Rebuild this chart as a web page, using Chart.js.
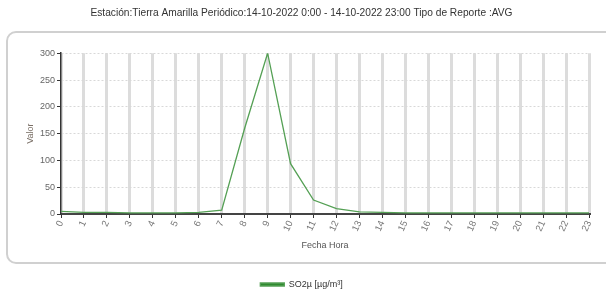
<!DOCTYPE html>
<html>
<head>
<meta charset="utf-8">
<script src="https://cdn.jsdelivr.net/npm/chart.js@4/dist/chart.umd.min.js"></script>
<style>
  html, body { margin: 0; padding: 0; background: #fff; }
  #wrap { width: 606px; height: 290px; position: relative; }
</style>
</head>
<body>
<div id="wrap"><canvas id="so2-chart"></canvas></div>
<script>
/* SO2 hourly average — Tierra Amarilla */
const hours = ['0','1','2','3','4','5','6','7','8','9','10','11','12','13','14','15','16','17','18','19','20','21','22','23'];
const so2Values = [5, 3, 3, 2, 2, 2, 3, 7, 160, 300, 94, 26, 10, 4, 3, 2, 2, 2, 2, 2, 2, 2, 2, 2];
const seriesLabel = 'SO2µ [µg/m³]';
const chartTitle = 'Estación:Tierra Amarilla Periódico:14-10-2022 0:00 - 14-10-2022 23:00 Tipo de Reporte :AVG';

const FONT = "'Liberation Sans', Arial, sans-serif";

// rounded panel behind the plot, like the WinForms chart area border
const panelPlugin = {
    id: 'panel',
    beforeDraw(chart) {
        const c = chart.ctx;
        c.save();
        c.fillStyle = '#fff';
        c.fillRect(0, 0, chart.width, chart.height);
        c.strokeStyle = '#d0d0d0';
        c.lineWidth = 2;
        c.beginPath();
        c.roundRect(7, 32, 640, 231, 9);
        c.stroke();
        c.restore();
    }
};

new Chart(document.getElementById('so2-chart'), {
    type: 'line',
    data: {
        labels: hours,
        datasets: [{
            label: seriesLabel,
            data: so2Values,
            borderColor: '#55a055',
            backgroundColor: '#2f8a2f',
            borderWidth: 1.3,
            pointRadius: 0,
            tension: 0
        }]
    },
    plugins: [panelPlugin],
    options: {
        responsive: true,
        maintainAspectRatio: false,
        animation: false,
        layout: { padding: { left: 14, right: 17, top: 0, bottom: -9 } },
        scales: {
            x: {
                offset: false,
                grid: {
                    color: '#dcdcdc',
                    lineWidth: 3,
                    tickColor: '#333',
                    tickWidth: 1,
                    tickLength: 4
                },
                border: { color: '#444', width: 2 },
                ticks: {
                    autoSkip: false,
                    minRotation: 65,
                    maxRotation: 65,
                    padding: 1,
                    color: '#777',
                    font: { family: FONT, size: 9.5 }
                },
                title: {
                    display: true,
                    text: 'Fecha Hora',
                    color: '#555',
                    font: { family: FONT, size: 9 },
                    padding: { top: 2, bottom: 24 }
                },
                afterFit: s => { s.height = 61; }
            },
            y: {
                min: 0,
                max: 300,
                grid: {
                    color: ctx => ctx.tick && ctx.tick.value % 50 === 0 ? '#d8d8d8' : 'rgba(0,0,0,0)',
                    lineWidth: 1,
                    tickColor: '#333',
                    tickLength: 4
                },
                border: { color: '#333', width: 1.5, dash: [2, 2] },
                ticks: {
                    stepSize: 25,
                    padding: 2,
                    color: '#666',
                    font: { family: FONT, size: 9 },
                    callback: v => v % 50 === 0 ? v : ''
                },
                title: {
                    display: true,
                    text: 'Valor',
                    color: '#7a6f66',
                    font: { family: FONT, size: 9 },
                    padding: { top: 11, bottom: 0 }
                },
                afterFit: s => { s.width = 47; }
            }
        },
        plugins: {
            title: {
                display: true,
                text: chartTitle,
                color: '#333',
                font: { family: FONT, size: 10.2, weight: 'normal' },
                padding: { top: 7, bottom: 34 }
            },
            legend: {
                position: 'bottom',
                labels: {
                    boxWidth: 24,
                    boxHeight: 3,
                    padding: 5,
                    color: '#333',
                    font: { family: FONT, size: 9 }
                }
            },
            tooltip: { enabled: false }
        }
    }
});
</script>
</body>
</html>
